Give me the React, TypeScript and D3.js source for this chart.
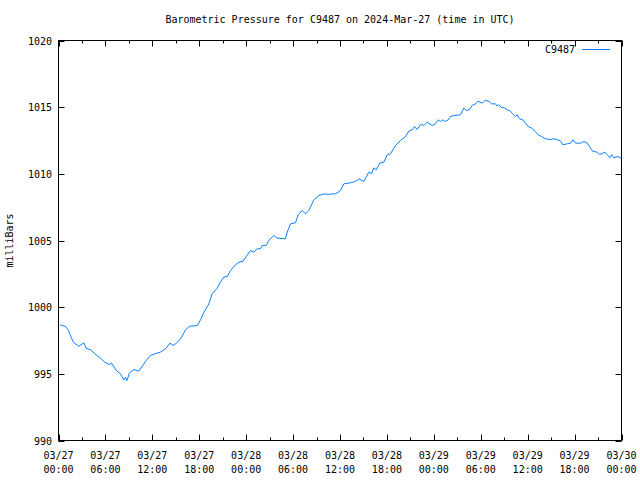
import React from "react";
import * as d3 from "d3";

const hours: number[] = [
  0.2, 0.9, 1.3, 1.6, 1.96, 2.6, 3.24, 3.54, 4.09, 4.65, 5.37, 5.93, 6.44, 6.78, 7.38, 7.93, 8.36, 8.57, 8.74, 9.08,
  9.63, 10.27, 10.78, 11.22, 11.77, 12.32, 13.0, 13.7, 14.24, 14.67, 15.09, 15.69, 16.24, 16.8, 17.73, 18.16,
  18.6, 19.23, 19.65, 20.3, 20.7, 21.14, 21.58, 22.0, 22.64, 23.06, 23.6, 24.1, 24.56, 24.97, 25.4, 25.83, 26.05,
  26.56, 26.9, 27.54, 27.97, 29.03, 29.25, 29.67, 30.31, 30.65, 31.17, 31.59, 32.0, 32.66, 33.3, 33.72, 34.15,
  34.57, 35.0, 35.43, 36.07, 36.49, 37.34, 37.98, 38.4, 39.05, 39.69, 40.03, 40.33, 40.63, 41.1, 41.6, 42.04,
  42.46, 43.1, 43.74, 44.38, 44.8, 45.23, 45.53, 45.87, 46.3, 46.72, 47.15, 47.79, 48.21, 48.56, 48.85, 49.15,
  49.5, 49.84, 50.13, 50.56, 51.41, 51.84, 52.14, 52.57, 52.91, 53.33, 53.63, 54.19, 54.52, 55.03, 55.38, 55.89,
  56.1, 56.3, 56.6, 57.04, 57.38, 57.68, 58.1, 58.45, 58.66, 58.96, 59.38, 59.72, 60.07, 60.49, 60.92, 61.35,
  61.77, 62.28, 62.92, 63.35, 63.77, 64.2, 64.5, 65.06, 65.49, 65.79, 66.12, 66.76, 67.19, 67.62, 68.04, 68.34,
  68.9, 69.2, 69.62, 69.88, 70.18, 70.52, 70.74, 71.04, 71.45, 71.88, 72.0,
];

const pressure: number[] = [
  998.68, 998.55, 998.25, 997.75, 997.33, 997.07, 997.33, 996.92, 996.8, 996.5, 996.17, 995.87, 995.7, 995.8,
  995.25, 995.0, 994.55, 994.75, 994.48, 995.07, 995.33, 995.2, 995.63, 996.0, 996.38, 996.5, 996.62, 996.88,
  997.3, 997.13, 997.3, 997.7, 998.3, 998.57, 998.62, 999.05, 999.62, 1000.25, 1001.0, 1001.43, 1001.87, 1002.25,
  1002.3, 1002.75, 1003.18, 1003.37, 1003.45, 1003.88, 1004.25, 1004.12, 1004.38, 1004.38, 1004.63, 1004.63,
  1005.0, 1005.38, 1005.18, 1005.13, 1005.63, 1006.25, 1006.33, 1006.93, 1007.25, 1007.0, 1007.25, 1008.05,
  1008.37, 1008.45, 1008.5, 1008.45, 1008.5, 1008.5, 1008.75, 1009.25, 1009.33, 1009.43, 1009.62, 1009.43,
  1010.13, 1010.0, 1010.45, 1010.3, 1010.82, 1010.87, 1011.42, 1011.5, 1012.13, 1012.5, 1012.8, 1013.2, 1013.3,
  1013.55, 1013.33, 1013.7, 1013.63, 1013.88, 1013.63, 1013.75, 1014.05, 1013.93, 1014.05, 1013.93, 1014.05,
  1014.3, 1014.37, 1014.43, 1014.93, 1014.75, 1014.83, 1015.13, 1015.25, 1015.45, 1015.3, 1015.5, 1015.45,
  1015.25, 1015.25, 1015.08, 1015.2, 1015.0, 1014.95, 1014.8, 1014.75, 1014.5, 1014.3, 1014.43, 1014.13,
  1014.05, 1013.8, 1013.55, 1013.43, 1013.2, 1012.93, 1012.8, 1012.63, 1012.57, 1012.63, 1012.57, 1012.45,
  1012.18, 1012.25, 1012.3, 1012.55, 1012.3, 1012.3, 1012.43, 1012.3, 1011.93, 1011.68, 1011.63, 1011.45,
  1011.55, 1011.63, 1011.43, 1011.2, 1011.43, 1011.2, 1011.3, 1011.2, 1011.25,
];

const yTicks: number[] = [990, 995, 1000, 1005, 1010, 1015, 1020];
const xTickHours: number[] = [0, 6, 12, 18, 24, 30, 36, 42, 48, 54, 60, 66, 72];
const xTickDates: string[] = ["03/27", "03/27", "03/27", "03/27", "03/28", "03/28", "03/28", "03/28", "03/29", "03/29", "03/29", "03/29", "03/30"];
const xTickTimes: string[] = ["00:00", "06:00", "12:00", "18:00", "00:00", "06:00", "12:00", "18:00", "00:00", "06:00", "12:00", "18:00", "00:00"];
const xMinorHours: number[] = [3, 9, 15, 21, 27, 33, 39, 45, 51, 57, 63, 69];

const title = "Barometric Pressure for C9487 on 2024-Mar-27 (time in UTC)";
const seriesName = "C9487";
const yLabel = "milliBars";

export default function App() {
  const W = 640, H = 480;
  const L = 58.5, R = 621.5, T = 40.5, B = 440.5;
  const x = d3.scaleLinear().domain([0, 72]).range([L, R]);
  const y = d3.scaleLinear().domain([990, 1020]).range([B, T]);
  const line = d3.line<number>().x((_, i) => x(hours[i])).y((d) => y(d));
  const font = "'DejaVu Sans Mono', monospace";
  const color = "#0a80ff";
  return (
    <svg width={W} height={H} style={{ position: "absolute", left: 0, top: 0, background: "#fff" }} fontFamily={font} fontSize={10}>
      <rect x={0} y={0} width={W} height={H} fill="#fff" />
      <text x={(L + R) / 2} y={23} textAnchor="middle">{title}</text>
      {yTicks.map((v) => (
        <g key={"y" + v}>
          <line x1={L} x2={L + 6} y1={Math.round(y(v)) + 0.5} y2={Math.round(y(v)) + 0.5} stroke="#000" />
          <line x1={R} x2={R - 6} y1={Math.round(y(v)) + 0.5} y2={Math.round(y(v)) + 0.5} stroke="#000" />
          <text x={52} y={y(v) + 4} textAnchor="end">{v}</text>
        </g>
      ))}
      {xTickHours.map((h, i) => (
        <g key={"x" + h}>
          <line x1={Math.round(x(h)) + 0.5} x2={Math.round(x(h)) + 0.5} y1={B} y2={B - 6} stroke="#000" />
          <line x1={Math.round(x(h)) + 0.5} x2={Math.round(x(h)) + 0.5} y1={T} y2={T + 6} stroke="#000" />
          <text x={x(h)} y={459} textAnchor="middle">{xTickDates[i]}</text>
          <text x={x(h)} y={473} textAnchor="middle">{xTickTimes[i]}</text>
        </g>
      ))}
      {xMinorHours.map((h) => (
        <g key={"m" + h}>
          <line x1={Math.round(x(h)) + 0.5} x2={Math.round(x(h)) + 0.5} y1={B} y2={B - 3} stroke="#000" />
          <line x1={Math.round(x(h)) + 0.5} x2={Math.round(x(h)) + 0.5} y1={T} y2={T + 3} stroke="#000" />
        </g>
      ))}
      <rect x={L} y={T} width={R - L} height={B - T} fill="none" stroke="#000" />
      <text transform={`translate(13,${(T + B) / 2}) rotate(-90)`} textAnchor="middle">{yLabel}</text>
      <path d={line(pressure) || ""} fill="none" stroke={color} strokeWidth={1} />
      <text x={575} y={53} textAnchor="end">{seriesName}</text>
      <line x1={582} x2={610} y1={49.5} y2={49.5} stroke={color} />
    </svg>
  );
}
